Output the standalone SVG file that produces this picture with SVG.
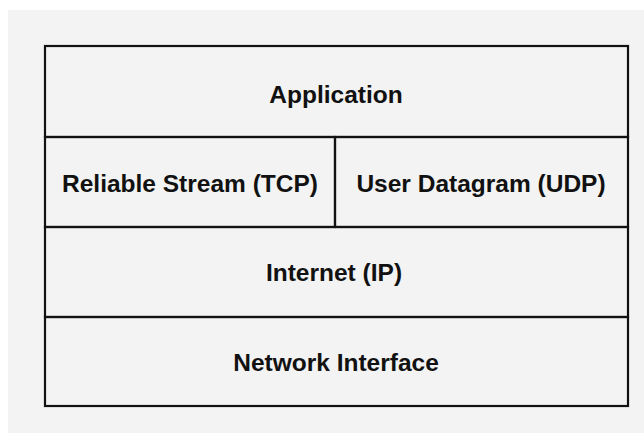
<svg xmlns="http://www.w3.org/2000/svg" width="644" height="433" viewBox="0 0 644 433">
  <style>
    .cell { fill: none; stroke: #111; stroke-width: 2.2; }
    .lbl { font-family: "Liberation Sans", Arial, Helvetica, sans-serif; font-weight: bold; font-size: 24.5px; fill: #111; text-anchor: middle; dominant-baseline: central; }
  </style>
  <rect x="0" y="0" width="644" height="433" fill="#ffffff"/>
  <rect x="8" y="10" width="636" height="423" fill="#f3f3f3"/>
  <g id="application">
    <rect class="cell" x="45" y="46" width="583" height="91"/>
    <text class="lbl" x="336" y="94">Application</text>
  </g>
  <g id="tcp">
    <rect class="cell" x="45" y="137" width="290" height="90"/>
    <text class="lbl" x="190" y="183">Reliable Stream (TCP)</text>
  </g>
  <g id="udp">
    <rect class="cell" x="335" y="137" width="293" height="90"/>
    <text class="lbl" x="481" y="183">User Datagram (UDP)</text>
  </g>
  <g id="internet">
    <rect class="cell" x="45" y="227" width="583" height="90"/>
    <text class="lbl" x="334" y="272">Internet (IP)</text>
  </g>
  <g id="network-interface">
    <rect class="cell" x="45" y="317" width="583" height="89"/>
    <text class="lbl" x="336" y="362">Network Interface</text>
  </g>
  <g id="connectors"></g>
</svg>
